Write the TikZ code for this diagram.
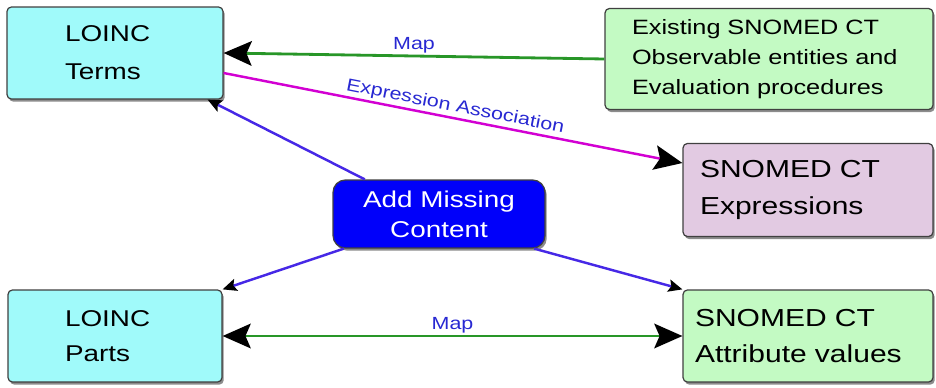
\documentclass[tikz,border=0pt]{standalone}
\usepackage{fontspec}
\setmainfont{Liberation Sans}[FakeStretch=1.22]
\usepackage{tikz}
\usepackage{xcolor}
\usetikzlibrary{arrows.meta,shadows}

\definecolor{loinccyan}{RGB}{160,250,250}
\definecolor{snogreen}{RGB}{195,250,195}
\definecolor{exprlilac}{RGB}{226,202,226}
\definecolor{addblue}{RGB}{0,0,250}
\definecolor{mapgreen}{RGB}{40,150,40}
\definecolor{assocmagenta}{RGB}{210,0,210}
\definecolor{addlinkblue}{RGB}{70,40,230}
\definecolor{labelblue}{RGB}{40,40,210}

\begin{document}
\begin{tikzpicture}[x=0.02cm,y=-0.02cm,
  box/.style={draw=black!75, line width=0.7pt, rounded corners=2.5pt, align=left, inner sep=0pt,
    drop shadow={shadow xshift=1pt, shadow yshift=-1.5pt, opacity=0.45, fill=black}},
  maplink/.style={draw=mapgreen, line width=1.6pt, >={Stealth[black,length=16pt,width=14pt,inset=3pt]}},
  assoclink/.style={draw=assocmagenta, line width=1.4pt, ->, >={Stealth[black,length=16pt,width=14pt,inset=3pt]}},
  addlink/.style={draw=addlinkblue, line width=1.4pt, ->, >={Stealth[black,length=8pt,width=7pt,inset=1.5pt]}},
  maplabel/.style={above, inner sep=1pt, text=labelblue, font=\fontsize{10}{12}\selectfont}]
  \useasboundingbox (0,0) rectangle (936,388);

  \node[box, fill=loinccyan, minimum width=4.32cm, minimum height=1.84cm, text width=2.0cm, font=\fontsize{13}{21.5}\selectfont] (terms) at (115,53) {LOINC\\Terms};
  \node[box, fill=snogreen, minimum width=6.56cm, minimum height=2.02cm, text width=5.48cm, font=\fontsize{11.8}{17}\selectfont] (existing) at (769,59) {Existing SNOMED CT\\Observable entities and\\Evaluation procedures};
  \node[box, fill=exprlilac, minimum width=5.0cm, minimum height=1.86cm, text width=4.32cm, font=\fontsize{14}{21}\selectfont] (expr) at (808,190) {SNOMED CT\\Expressions};
  \node[box, fill=addblue, text=white, align=center, rounded corners=7pt, minimum width=4.24cm, minimum height=1.36cm, font=\fontsize{13}{17}\selectfont] (add) at (439,214) {Add Missing\\Content};
  \node[box, fill=loinccyan, minimum width=4.28cm, minimum height=1.84cm, text width=2.0cm, font=\fontsize{13}{20}\selectfont] (parts) at (115,336) {LOINC\\Parts};
  \node[box, fill=snogreen, minimum width=5.0cm, minimum height=1.84cm, text width=4.52cm, font=\fontsize{14}{20}\selectfont] (attr) at (808,336) {SNOMED CT\\Attribute values};

  \draw[maplink, ->] (existing.west) -- node[maplabel] {Map} (terms.east);
  \draw[assoclink] ([yshift=-0.4cm]terms.east) -- node[maplabel, sloped] {Expression Association} ([yshift=0.54cm]expr.west);
  \draw[addlink] (add.155) -- ([xshift=-0.32cm]terms.south east);
  \draw[addlink] (add.200) -- (parts.north east);
  \draw[addlink] (add.-20) -- (attr.north west);
  \draw[maplink, <->] (parts.east) -- node[maplabel] {Map} (attr.west);
\end{tikzpicture}
\end{document}
